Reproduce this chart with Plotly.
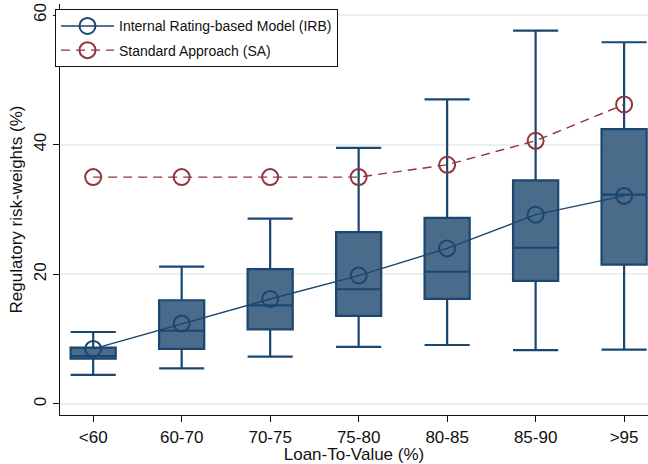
import plotly.graph_objects as go

# Loan-to-value buckets
categories = ["<60", "60-70", "70-75", "75-80", "80-85", "85-90", ">95"]

# IRB risk-weight distribution per bucket (%)
irb_lower = [4.5, 5.5, 7.3, 8.8, 9.1, 8.3, 8.4]
irb_q1 = [7.0, 8.5, 11.5, 13.6, 16.2, 19.0, 21.5]
irb_median = [7.4, 11.3, 15.2, 17.7, 20.4, 24.1, 32.3]
irb_q3 = [8.7, 16.0, 20.8, 26.5, 28.7, 34.5, 42.4]
irb_upper = [11.1, 21.2, 28.6, 39.5, 47.0, 57.6, 55.8]
irb_mean = [8.5, 12.4, 16.2, 19.8, 24.0, 29.2, 32.1]

# Standard approach risk weights (%)
sa_values = [35.0, 35.0, 35.0, 35.0, 36.9, 40.6, 46.2]

yticks = [0, 20, 40, 60]

NAVY = "#1a476f"
BOXFILL = "#4b6b8b"
MAROON = "#90353b"
FONT = "Liberation Sans, Arial, sans-serif"

fig = go.Figure()

fig.add_trace(go.Box(
    x=categories,
    q1=irb_q1,
    median=irb_median,
    q3=irb_q3,
    lowerfence=irb_lower,
    upperfence=irb_upper,
    fillcolor=BOXFILL,
    line=dict(color=NAVY, width=2.2),
    whiskerwidth=1,
    width=0.51,
    boxpoints=False,
    showlegend=False,
    hoverinfo="skip",
))

fig.add_trace(go.Scatter(
    x=categories,
    y=irb_mean,
    mode="lines+markers",
    name="Internal Rating-based Model (IRB)",
    legendgroup="irb",
    line=dict(color=NAVY, width=1.4),
    marker=dict(symbol="circle-open", size=16, color=NAVY, line=dict(width=2)),
))

fig.add_trace(go.Scatter(
    x=categories,
    y=sa_values,
    mode="lines+markers",
    name="Standard Approach (SA)",
    legendgroup="sa",
    line=dict(color=MAROON, width=1.4, dash="9px,6px"),
    marker=dict(symbol="circle-open", size=16, color=MAROON, line=dict(width=2)),
))

fig.update_layout(
    width=648,
    height=464,
    margin=dict(l=60, r=0, t=4, b=49),
    paper_bgcolor="white",
    plot_bgcolor="white",
    font=dict(family=FONT, size=17, color="#111111"),
    showlegend=True,
    legend=dict(
        x=-0.0085, y=0.987, xanchor="left", yanchor="top",
        bgcolor="white",
        bordercolor="#111111",
        borderwidth=1,
        font=dict(family=FONT, size=14, color="#111111"),
        tracegroupgap=3,
        itemwidth=53,
    ),
    xaxis=dict(
        type="category",
        range=[-0.375, 6.27],
        showgrid=False,
        showline=True,
        linecolor="#111111",
        linewidth=1.3,
        ticks="outside",
        ticklen=6,
        tickcolor="#111111",
        tickfont=dict(size=17),
        title=dict(text="Loan-To-Value (%)", font=dict(size=17), standoff=0),
        zeroline=False,
    ),
    yaxis=dict(
        range=[-1.7, 61.7],
        tickvals=yticks,
        ticktext=[str(v) for v in yticks],
        tickangle=-90,
        showgrid=True,
        gridcolor="#e8f0f2",
        gridwidth=1.5,
        showline=True,
        linecolor="#111111",
        linewidth=1.3,
        ticks="outside",
        ticklen=6,
        tickcolor="#111111",
        tickfont=dict(size=17),
        title=dict(text="Regulatory risk-weights (%)", font=dict(size=17), standoff=4),
        zeroline=False,
    ),
)

fig.write_html("out.html")
